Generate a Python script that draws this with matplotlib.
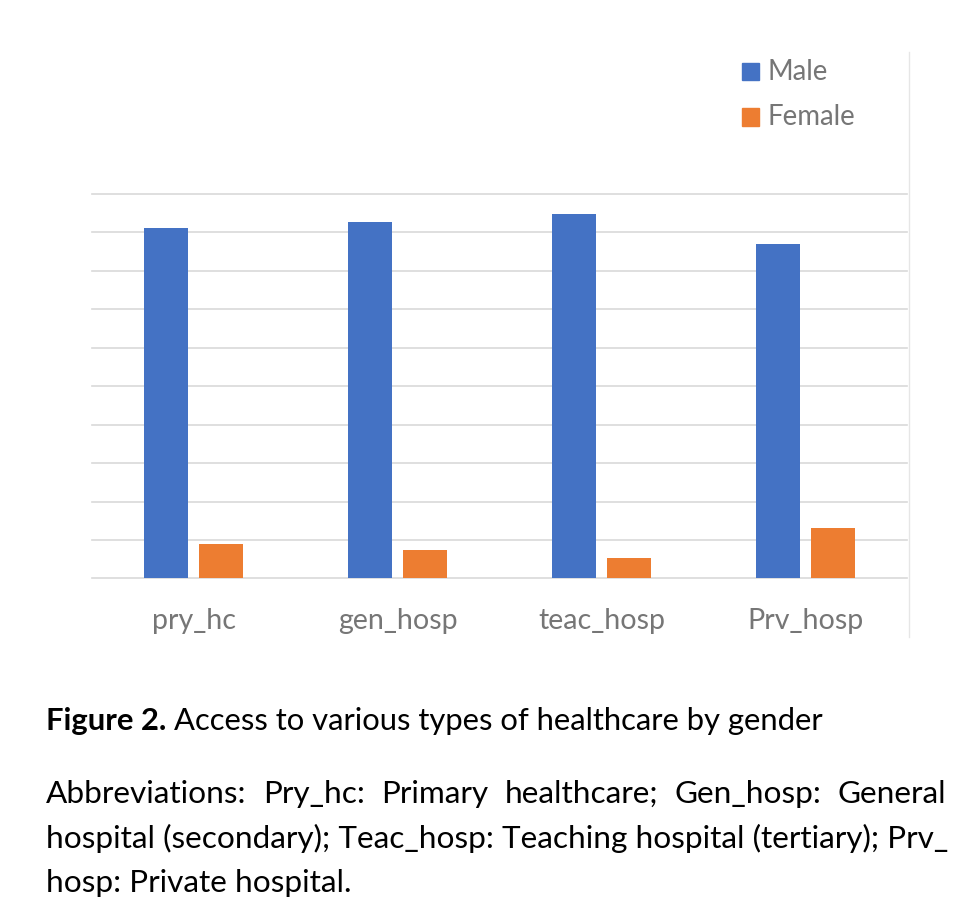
import matplotlib
matplotlib.use('Agg')
import matplotlib.pyplot as plt
from matplotlib.patches import Rectangle
from matplotlib.lines import Line2D
import numpy as np

# datos (porcentajes)
categorias = ["pry_hc", "gen_hosp", "teac_hosp", "Prv_hosp"]
series = ["Male", "Female"]
male = [91.1, 92.7, 94.7, 86.9]
female = [8.9, 7.3, 5.3, 13.1]

titulo_bold = "Figure 2."
titulo_resto = "Access to various types of healthcare by gender"
abrev = [
    "Abbreviations: Pry_hc: Primary healthcare; Gen_hosp: General",
    "hospital (secondary); Teac_hosp: Teaching hospital (tertiary); Prv_",
    "hosp: Private hospital.",
]

W, H = 975, 921
AZUL = '#4472C4'
NARANJA = '#ED7D31'
GRIS_TXT = '#767676'
GRIS_LINEA = '#d9d9d9'
FUENTE = 'Lato'

fig = plt.figure(figsize=(W / 100, H / 100), dpi=100)
fig.patch.set_facecolor('white')

def px(x, y):
    # pixeles (origen arriba-izquierda) -> coords de figura
    return x / W, 1 - y / H

izq, der, abajo, arriba = 91.5, 907.5, 578.5, 194
ax = fig.add_axes([izq / W, 1 - abajo / H, (der - izq) / W, (abajo - arriba) / H])

x = np.arange(len(categorias))
ancho = 0.216
sep = 0.135
barras_m = ax.bar(x - sep, male, ancho, color=AZUL, label=series[0], zorder=3)
barras_f = ax.bar(x + sep, female, ancho, color=NARANJA, label=series[1], zorder=3)

ax.set_xlim(-0.5, len(categorias) - 0.5)
ax.set_ylim(0, 100)
for v in range(0, 101, 10):
    ax.axhline(v, color=GRIS_LINEA, lw=1.2, zorder=1, clip_on=False)
for s in ax.spines.values():
    s.set_visible(False)
ax.set_yticks([])
ax.set_xticks(x)
ax.set_xticklabels(categorias, family=FUENTE, color=GRIS_TXT, fontsize=18)
ax.tick_params(axis='x', length=0, pad=21)

renderer = fig.canvas.get_renderer()

def ajustar(t, objetivo):
    bb = t.get_window_extent(renderer)
    t.set_fontsize(t.get_fontsize() * objetivo / bb.width)

# tamaño de etiquetas del eje segun ancho de "teac_hosp"
lbls = ax.get_xticklabels()
bb = lbls[2].get_window_extent(renderer)
fs_ticks = 18 * 127 / bb.width
for l in lbls:
    l.set_fontsize(fs_ticks)

# leyenda manual
leyenda = [(barras_m, series[0], 72), (barras_f, series[1], 117)]
for barras, nombre, yc in leyenda:
    fig.patches.append(Rectangle(px(742, yc + 8.5), 17 / W, 17 / H,
                                 transform=fig.transFigure,
                                 color=barras.patches[0].get_facecolor()))
    t = fig.text(*px(767, yc), nombre, family=FUENTE, color=GRIS_TXT,
                 fontsize=20, va='center', ha='left')
    if nombre == "Female":
        ajustar(t, 88)
        fs_ley = t.get_fontsize()
for t in fig.texts:
    t.set_fontsize(fs_ley)

# linea vertical del borde del grafico
fig.add_artist(Line2D([909 / W, 909 / W], [1 - 52 / H, 1 - 637 / H],
                      color='#e6e6e6', lw=1, transform=fig.transFigure))

# texto de la figura
x0, x1 = 46, 946
ref = fig.text(*px(x0, 847.5), abrev[1], family=FUENTE, fontsize=20,
               color='black', va='baseline', ha='left')
ajustar(ref, x1 - x0)
fs = ref.get_fontsize()

def ancho_txt(s, tam, peso='normal'):
    t = fig.text(0, 0, s, family=FUENTE, fontsize=tam, weight=peso)
    w = t.get_window_extent(renderer).width
    t.remove()
    return w

# linea 1 justificada
palabras = abrev[0].split(' ')
anchos = [ancho_txt(p, fs) for p in palabras]
hueco = (x1 - x0 - sum(anchos)) / (len(palabras) - 1)
xp = x0
for p, w in zip(palabras, anchos):
    fig.text(*px(xp, 803), p, family=FUENTE, fontsize=fs, color='black',
             va='baseline', ha='left')
    xp += w + hueco

fig.text(*px(x0, 892), abrev[2], family=FUENTE, fontsize=fs, color='black',
         va='baseline', ha='left')

# titulo: parte en negrita + resto, ancho total ~780 px
def ancho_titulo(tam):
    esp = ancho_txt('a b', tam) - ancho_txt('ab', tam)
    return ancho_txt(titulo_bold, tam, 'bold') + esp + ancho_txt(titulo_resto, tam)

fs_t = fs * 780 / ancho_titulo(fs)
wb = ancho_txt(titulo_bold, fs_t, 'bold')
esp = ancho_txt('a b', fs_t) - ancho_txt('ab', fs_t)
fig.text(*px(x0, 730), titulo_bold, family=FUENTE, fontsize=fs_t, weight='bold',
         color='black', va='baseline', ha='left')
fig.text(*px(x0 + wb + esp, 730), titulo_resto, family=FUENTE, fontsize=fs_t,
         color='black', va='baseline', ha='left')

fig.savefig('out.png', dpi=100, facecolor='white')
plt.close()
